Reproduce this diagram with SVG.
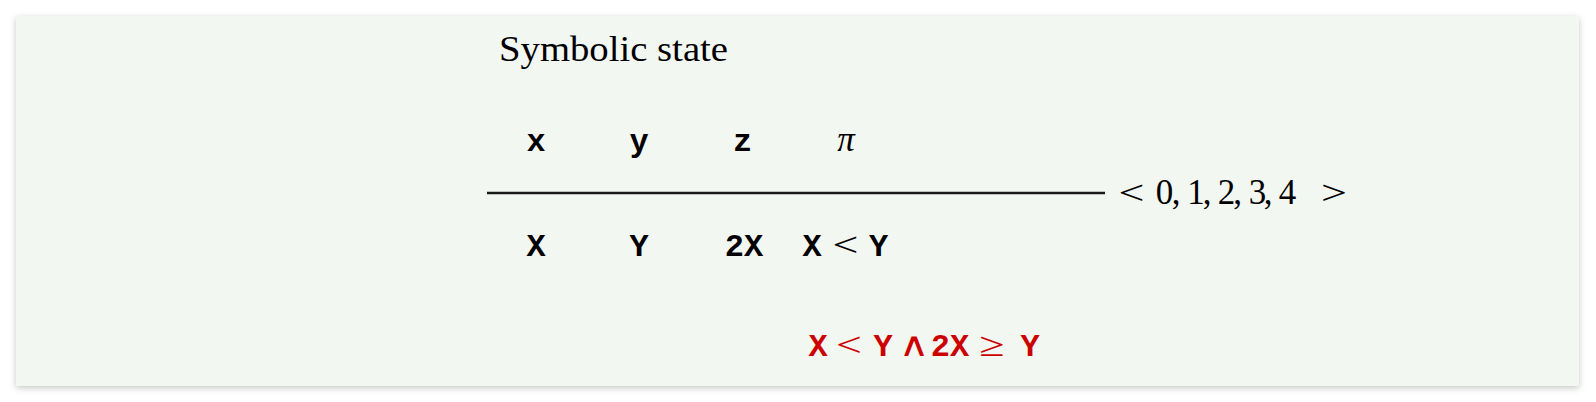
<svg xmlns="http://www.w3.org/2000/svg" width="1596" height="402" viewBox="0 0 1596 402">
  <defs>
    <filter id="shadow" x="-5%" y="-10%" width="110%" height="125%">
      <feDropShadow dx="0" dy="2" stdDeviation="3" flood-color="#000" flood-opacity="0.22"/>
    </filter>
  </defs>
  <style>
    .serif { font-family: "Liberation Serif", "DejaVu Serif", serif; fill: #000; }
    .tt { font-family: "Liberation Mono", "DejaVu Sans Mono", monospace; font-weight: bold; font-size: 32px; fill: #000; text-anchor: middle; }
    .rel { font-family: "Liberation Serif", "DejaVu Serif", serif; font-size: 34px; fill: #000; text-anchor: middle; }
    .op { font-family: "DejaVu Sans", "Liberation Sans", sans-serif; font-size: 28px; fill: #000; text-anchor: middle; }
    .num { font-family: "Liberation Serif", "DejaVu Serif", serif; font-size: 35px; fill: #000; text-anchor: middle; }
    .red { fill: #cc0000; }
    .rule { stroke: #1a1a1a; stroke-width: 2.6; }
  </style>
  <rect x="0" y="0" width="1596" height="402" fill="#ffffff"/>
  <g id="panel">
    <rect x="16" y="16" width="1563" height="370" fill="#f3f7f2" filter="url(#shadow)"/>
  </g>
  <g id="title">
    <text class="serif" x="499" y="61" font-size="36" textLength="229" lengthAdjust="spacingAndGlyphs">Symbolic state</text>
  </g>
  <g id="variables">
    <text class="tt" x="536" y="151">x</text>
    <text class="tt" x="639" y="151">y</text>
    <text class="tt" x="742.5" y="151">z</text>
    <text class="serif" x="846" y="151" font-size="35" font-style="italic" text-anchor="middle">π</text>
  </g>
  <g id="connectors">
    <line class="rule" x1="487" y1="193" x2="1105" y2="193"/>
  </g>
  <g id="path">
    <text class="rel" transform="translate(1131.5,204) scale(1.35,1)">&lt;</text>
    <text class="num" x="1164.5" y="204">0</text>
    <text class="num" x="1176" y="204">,</text>
    <text class="num" x="1196" y="204">1</text>
    <text class="num" x="1207" y="204">,</text>
    <text class="num" x="1226.5" y="204">2</text>
    <text class="num" x="1237.5" y="204">,</text>
    <text class="num" x="1257.5" y="204">3</text>
    <text class="num" x="1268" y="204">,</text>
    <text class="num" x="1287.5" y="204">4</text>
    <text class="rel" transform="translate(1334,204) scale(1.35,1)">&gt;</text>
  </g>
  <g id="values">
    <text class="tt" x="536" y="256">X</text>
    <text class="tt" x="639" y="256">Y</text>
    <text class="tt" x="744" y="256">2X</text>
    <text class="tt" x="812" y="256">X</text>
    <text class="rel" transform="translate(845.5,256) scale(1.35,1)">&lt;</text>
    <text class="tt" x="878.5" y="256">Y</text>
  </g>
  <g id="path-condition">
    <text class="tt red" x="818" y="356">X</text>
    <text class="rel red" transform="translate(849,356) scale(1.35,1)">&lt;</text>
    <text class="tt red" x="883" y="356">Y</text>
    <text class="op red" transform="translate(914,356) scale(1.5,1.2)">∧</text>
    <text class="tt red" x="950" y="356">2X</text>
    <text class="rel red" transform="translate(992,356) scale(1.35,1)">≥</text>
    <text class="tt red" x="1030" y="356">Y</text>
  </g>
</svg>
